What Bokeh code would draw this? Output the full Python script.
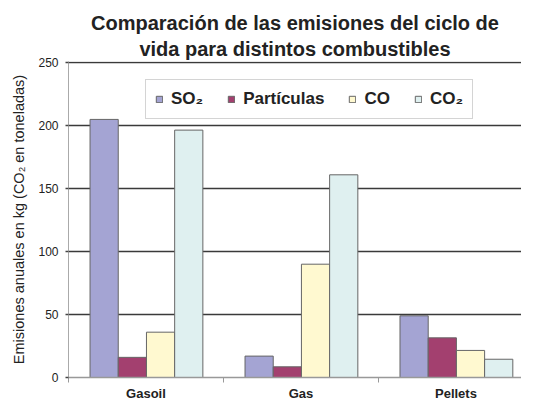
from bokeh.plotting import figure
from bokeh.models import ColumnDataSource, FixedTicker, Range1d, Legend, LegendItem, Title
from bokeh.embed import file_html
from bokeh.resources import INLINE

categories = ["Gasoil", "Gas", "Pellets"]
series = ["SO₂", "Partículas", "CO", "CO₂"]
so2 = [205, 17, 49]
particulas = [16, 8.5, 31.5]
co = [36, 90, 21.5]
co2 = [196.5, 161, 14.5]
values = [so2, particulas, co, co2]
colors = ["#a4a4d3", "#a3406f", "#fff9d0", "#dff0f0"]
y_ticks = [0, 50, 100, 150, 200, 250]
title_lines = ["Comparación de las emisiones del ciclo de", "vida para distintos combustibles"]

p = figure(width=521, height=403, output_backend="svg", toolbar_location=None,
           x_range=Range1d(0, 2.923), y_range=Range1d(0, 251), title=None)
p.min_border_left = 68
p.min_border_right = 0
p.min_border_bottom = 20
p.min_border_top = 61
p.outline_line_color = None
p.background_fill_color = "white"
p.border_fill_color = "white"

t2 = Title(text=title_lines[1], align="center", text_font="Liberation Sans",
           text_font_size="20px", text_font_style="bold", text_color="#222222", standoff=4)
t1 = Title(text=title_lines[0], align="center", text_font="Liberation Sans",
           text_font_size="20px", text_font_style="bold", text_color="#222222", standoff=0)
p.add_layout(t2, "above")
p.add_layout(t1, "above")

bar_w = 0.182
offsets = [-1.5, -0.5, 0.5, 1.5]
items = []
for s, vals, col, off in zip(series, values, colors, offsets):
    src = ColumnDataSource(dict(x=[i + 0.503 + off * bar_w for i in range(len(categories))], top=vals))
    r = p.vbar(x="x", top="top", width=bar_w, bottom=0, source=src,
               fill_color=col, line_color="#666666", line_width=1)
    items.append(LegendItem(label=s, renderers=[r]))

legend = Legend(items=items, orientation="horizontal", location=(77, 258))
legend.label_text_font = "Liberation Sans"
legend.label_text_font_size = "17px"
legend.label_text_font_style = "bold"
legend.label_text_color = "#222222"
legend.glyph_width = 8
legend.glyph_height = 8
legend.label_standoff = 8
legend.spacing = 24
legend.padding = 9
legend.margin = 0
legend.border_line_color = "#aaaaaa"
legend.border_line_width = 1
legend.background_fill_alpha = 1
p.add_layout(legend, "center")

# x axis
p.xaxis.ticker = FixedTicker(ticks=[0.5, 1.5, 2.5], minor_ticks=[0, 1, 2, 3])
p.xaxis.major_label_overrides = {0.5: categories[0], 1.5: categories[1], 2.5: categories[2]}
p.xaxis.major_tick_line_color = None
p.xaxis.major_tick_out = 0
p.xaxis.major_tick_in = 0
p.xaxis.minor_tick_in = 0
p.xaxis.minor_tick_out = 5
p.xaxis.minor_tick_line_color = "#999999"
p.xaxis.axis_line_color = "#999999"
p.xaxis.axis_line_width = 1.5
p.xaxis.major_label_text_font = "Liberation Sans"
p.xaxis.major_label_text_font_size = "13px"
p.xaxis.major_label_text_font_style = "bold"
p.xaxis.major_label_text_color = "#222222"
p.xaxis.major_label_standoff = 3

# y axis
p.yaxis.ticker = FixedTicker(ticks=y_ticks, minor_ticks=[])
p.yaxis.axis_line_color = "#aaaaaa"
p.yaxis.major_tick_in = 0
p.yaxis.major_tick_out = 3
p.yaxis.major_tick_line_color = "#444444"
p.yaxis.major_tick_line_width = 1.5
p.yaxis.major_label_text_font = "Liberation Sans"
p.yaxis.major_label_text_font_size = "12px"
p.yaxis.major_label_text_font_style = "normal"
p.yaxis.major_label_text_color = "#222222"
p.yaxis.major_label_standoff = 7
p.yaxis.axis_label = "Emisiones anuales en kg (CO₂ en toneladas)"
p.yaxis.axis_label_text_font = "Liberation Sans"
p.yaxis.axis_label_text_font_size = "14.5px"
p.yaxis.axis_label_text_font_style = "normal"
p.yaxis.axis_label_text_color = "#222222"
p.yaxis.axis_label_standoff = 8

p.xgrid.grid_line_color = None
p.ygrid.ticker = FixedTicker(ticks=[50, 100, 150, 200, 250])
p.ygrid.grid_line_color = "#3a3a3a"
p.ygrid.grid_line_width = 1.5

open("out.html", "w").write(file_html(p, INLINE))
